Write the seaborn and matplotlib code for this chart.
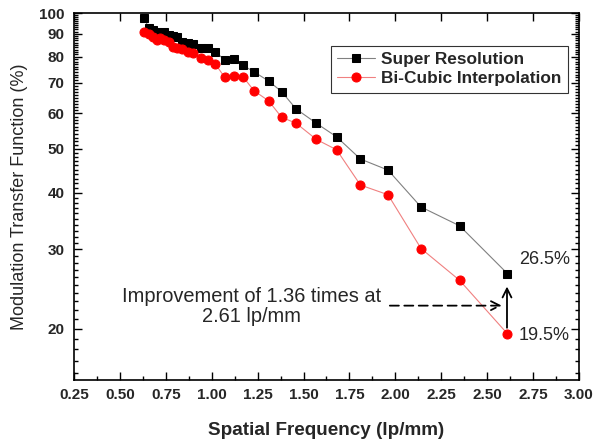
import matplotlib
matplotlib.use("Agg")
import matplotlib.pyplot as plt
from matplotlib.ticker import FixedLocator, NullFormatter
import seaborn as sns
import pandas as pd
import numpy as np

# spatial frequency samples (lp/mm), shared by both curves
freq = [0.63, 0.66, 0.68, 0.70, 0.72, 0.74, 0.77, 0.79, 0.81, 0.84,
        0.87, 0.90, 0.94, 0.98, 1.02, 1.07, 1.12, 1.17, 1.23, 1.31,
        1.38, 1.46, 1.57, 1.68, 1.81, 1.96, 2.14, 2.35, 2.61]
super_res = [97.3, 92.5, 91.5, 90.9, 90.2, 90.6, 89.5, 88.9, 88.6, 86.4,
             85.9, 85.2, 83.5, 83.5, 82.1, 78.7, 79.1, 76.6, 74.1, 70.7,
             67.0, 61.3, 57.0, 53.2, 47.5, 44.9, 37.2, 33.8, 26.5]
bicubic = [90.6, 89.7, 88.6, 87.2, 87.9, 87.2, 86.4, 84.2, 83.5, 83.1,
           82.1, 81.7, 79.4, 78.7, 77.1, 72.1, 72.5, 72.3, 67.3, 63.9,
           58.8, 57.0, 52.5, 49.8, 41.6, 39.6, 30.1, 25.6, 19.5]

x_ticks = [0.25, 0.50, 0.75, 1.00, 1.25, 1.50, 1.75, 2.00, 2.25, 2.50, 2.75, 3.00]
y_ticks = [20, 30, 40, 50, 60, 70, 80, 90, 100]

sns.set_theme(style="ticks")
plt.rcParams["font.family"] = ["Liberation Sans", "DejaVu Sans"]

df = pd.DataFrame({"freq": freq, "sr": super_res, "bc": bicubic})

fig = plt.figure(figsize=(5.94, 4.44), dpi=100)
ax = fig.add_axes([0.1246, 0.1441, 0.8501, 0.8266])

sns.lineplot(data=df, x="freq", y="sr", ax=ax, color="#808080", lw=0.8,
             marker="s", markersize=5.5, markerfacecolor="black",
             markeredgecolor="black", label="Super Resolution")
sns.lineplot(data=df, x="freq", y="bc", ax=ax, color="#f08080", lw=0.8,
             marker="o", markersize=6.5, markerfacecolor="#ff0000",
             markeredgecolor="#ff0000", label="Bi-Cubic Interpolation")

ax.set_yscale("log")
ax.set_xlim(0.25, 3.0)
ax.set_ylim(15.4, 100)

ax.xaxis.set_major_locator(FixedLocator(x_ticks))
ax.xaxis.set_minor_locator(FixedLocator([t + 0.125 for t in x_ticks[:-1]]))
ax.set_xticklabels([f"{t:.2f}" for t in x_ticks], fontweight="bold", fontsize=11)
ax.yaxis.set_major_locator(FixedLocator(y_ticks))
ax.yaxis.set_minor_locator(FixedLocator([v for v in range(16, 100) if v % 10]))
ax.yaxis.set_minor_formatter(NullFormatter())
ax.set_yticklabels([str(t) for t in y_ticks], fontweight="bold", fontsize=11)

ax.tick_params(which="both", direction="in", top=True, right=True, width=1, color="black")
ax.tick_params(which="major", length=6)
ax.tick_params(which="minor", length=3)
ax.tick_params(axis="x", which="both", pad=6)
ax.tick_params(axis="y", which="both", pad=7)
ax.tick_params(axis="x", which="minor", top=False)
for s in ax.spines.values():
    s.set_color("black")
    s.set_linewidth(1.2)

ax.set_xlabel("Spatial Frequency (lp/mm)", fontsize=13.6, fontweight="bold", labelpad=14)
ax.set_ylabel("Modulation Transfer Function (%)", fontsize=13, labelpad=8)

leg = ax.legend(loc="upper right", bbox_to_anchor=(0.978, 0.91), frameon=True,
                fancybox=False, prop={"weight": "bold", "size": 12.4},
                handlelength=2.2, handletextpad=0.4, borderpad=0.35,
                labelspacing=0.25, borderaxespad=0)
leg.get_frame().set_edgecolor("black")
leg.get_frame().set_linewidth(0.8)

# annotations
ax.text(2.674, 28.4, "26.5%", fontsize=13, va="center", ha="left")
ax.text(2.674, 19.3, "19.5%", fontsize=13, va="center", ha="left")
ax.text(1.216, 22.4, "Improvement of 1.36 times at\n2.61 lp/mm", fontsize=14.4,
        ha="center", va="center", linespacing=1.1)
ax.annotate("", xy=(2.58, 22.5), xytext=(1.97, 22.5),
            arrowprops=dict(arrowstyle="->", lw=1.3, ls=(0, (5, 3)), color="black",
                            mutation_scale=16, shrinkA=0, shrinkB=0))
ax.annotate("", xy=(2.608, 24.8), xytext=(2.608, 20.1),
            arrowprops=dict(arrowstyle="->", lw=1.3, color="black",
                            mutation_scale=16, shrinkA=0, shrinkB=0))

fig.savefig("out.png", dpi=100)
